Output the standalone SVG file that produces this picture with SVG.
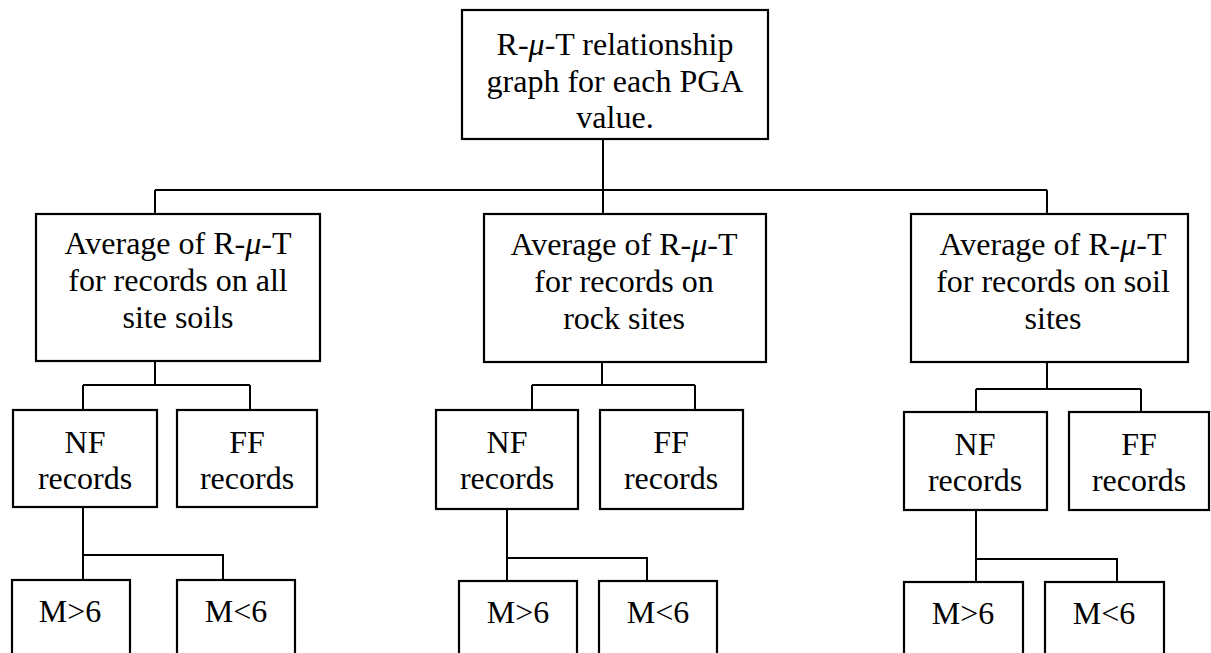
<svg xmlns="http://www.w3.org/2000/svg" width="1211" height="653" viewBox="0 0 1211 653">
<style>
.box{fill:#fff;stroke:#000;stroke-width:2.2}
text{font-family:"Liberation Serif","Times New Roman","DejaVu Serif",serif;font-size:32px;fill:#000;text-anchor:middle}
.c{fill:none;stroke:#000;stroke-width:2}
.mu{font-style:italic}
</style>
<rect width="1211" height="653" fill="#fff"/>
<g id="connectors">
<path class="c" d="M603 139V214M155 190H1047M155 190V214M1047 190V214"/>
<path class="c" d="M155 361V385M83 385H250M83 385V410M250 385V410M83 507V555H223V580M83 555V580"/>
<path class="c" d="M602 362V385M532 385H695M532 385V410M695 385V410M507 509V558H647V581M507 558V581"/>
<path class="c" d="M1047 362V389M976 389H1141M976 389V412M1141 389V412M976 510V559H1117V582M976 559V582"/>
</g>
<g font-family="Liberation Serif, Times New Roman, serif">
<g id="top">
<rect class="box" x="462" y="10" width="306" height="129"/>
<text x="615" y="55">R-<tspan class="mu">μ</tspan>-T relationship</text>
<text x="615" y="92">graph for each PGA</text>
<text x="615" y="128">value.</text>
</g>
<g id="all-sites">
<rect class="box" x="36" y="214" width="284" height="147"/>
<text x="178" y="254">Average of R-<tspan class="mu">μ</tspan>-T</text>
<text x="178" y="291">for records on all</text>
<text x="178" y="328">site soils</text>
</g>
<g id="rock-sites">
<rect class="box" x="484" y="214" width="282" height="148"/>
<text x="624" y="255">Average of R-<tspan class="mu">μ</tspan>-T</text>
<text x="624" y="292">for records on</text>
<text x="624" y="329">rock sites</text>
</g>
<g id="soil-sites">
<rect class="box" x="911" y="214" width="277" height="148"/>
<text x="1053" y="255">Average of R-<tspan class="mu">μ</tspan>-T</text>
<text x="1053" y="292">for records on soil</text>
<text x="1053" y="329">sites</text>
</g>
<g id="nf-all">
<rect class="box" x="13" y="410" width="144" height="97"/>
<text x="85" y="453">NF</text>
<text x="85" y="489">records</text>
</g>
<g id="ff-all">
<rect class="box" x="177" y="410" width="140" height="97"/>
<text x="247" y="453">FF</text>
<text x="247" y="489">records</text>
</g>
<g id="nf-rock">
<rect class="box" x="436" y="410" width="142" height="99"/>
<text x="507" y="453">NF</text>
<text x="507" y="489">records</text>
</g>
<g id="ff-rock">
<rect class="box" x="600" y="410" width="143" height="99"/>
<text x="671" y="453">FF</text>
<text x="671" y="489">records</text>
</g>
<g id="nf-soil">
<rect class="box" x="904" y="412" width="143" height="98"/>
<text x="975" y="455">NF</text>
<text x="975" y="491">records</text>
</g>
<g id="ff-soil">
<rect class="box" x="1069" y="412" width="140" height="98"/>
<text x="1139" y="455">FF</text>
<text x="1139" y="491">records</text>
</g>
<g id="m-gt-all">
<rect class="box" x="12" y="580" width="118" height="90"/>
<text x="70" y="622">M&gt;6</text>
</g>
<g id="m-lt-all">
<rect class="box" x="177" y="580" width="118" height="90"/>
<text x="236" y="622">M&lt;6</text>
</g>
<g id="m-gt-rock">
<rect class="box" x="459" y="581" width="118" height="90"/>
<text x="518" y="623">M&gt;6</text>
</g>
<g id="m-lt-rock">
<rect class="box" x="599" y="581" width="118" height="90"/>
<text x="658" y="623">M&lt;6</text>
</g>
<g id="m-gt-soil">
<rect class="box" x="904" y="582" width="119" height="90"/>
<text x="963" y="624">M&gt;6</text>
</g>
<g id="m-lt-soil">
<rect class="box" x="1045" y="582" width="119" height="90"/>
<text x="1104" y="624">M&lt;6</text>
</g>
</g>
</svg>
